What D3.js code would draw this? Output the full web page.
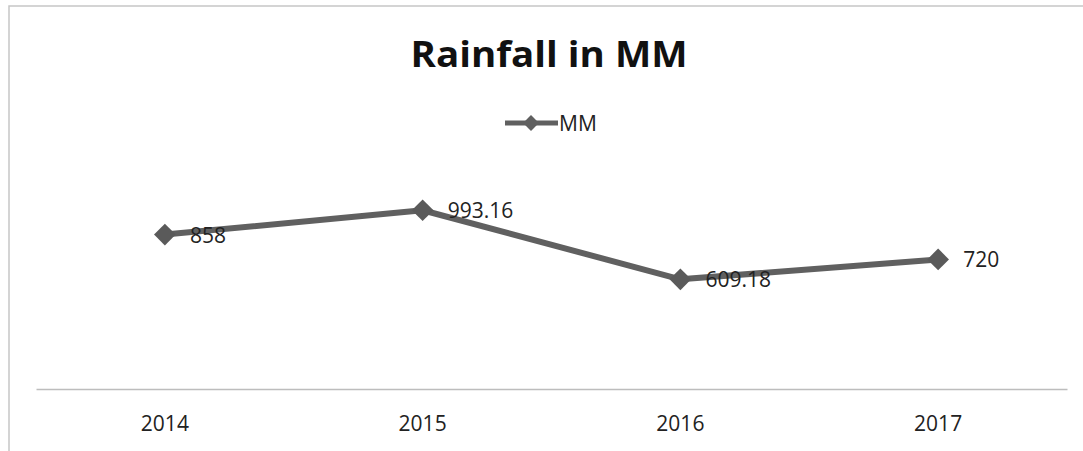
<!DOCTYPE html>
<html>
<head>
<meta charset="utf-8">
<script src="https://cdn.jsdelivr.net/npm/d3@7"></script>
<style>
  html, body { margin: 0; padding: 0; background: #fff; }
  svg { display: block; }
</style>
</head>
<body>
<svg id="chart" width="1083" height="451"></svg>
<script>
// Annual rainfall (mm)
const years = ["2014", "2015", "2016", "2017"];
const rainfall = [858, 993.16, 609.18, 720];
const labels = ["858", "993.16", "609.18", "720"];
const seriesName = "MM";
const title = "Rainfall in MM";

const W = 1083, H = 451;
const svg = d3.select("#chart");
const font = "'Open Sans', 'Liberation Sans', sans-serif";
const lineColor = "#606060";

// Chart frame
svg.append("rect")
  .attr("x", 9).attr("y", 6)
  .attr("width", 1200).attr("height", 600)
  .attr("fill", "#fff")
  .attr("stroke", "#c6c6c6")
  .attr("stroke-width", 1.5);

// Plot area
const plot = { left: 36, right: 1067, top: 173, bottom: 389 };

const x = d3.scaleBand()
  .domain(years)
  .range([plot.left, plot.right]);

const y = d3.scaleLinear()
  .domain([0, 1200])
  .range([plot.bottom, plot.top]);

// Category axis
const xAxis = svg.append("g")
  .attr("transform", `translate(0,${plot.bottom})`)
  .call(d3.axisBottom(x).tickSize(0).tickPadding(27));
xAxis.select(".domain")
  .attr("stroke", "#bdbdbd")
  .attr("stroke-width", 1.5);
xAxis.selectAll("text")
  .attr("font-family", font)
  .attr("font-size", 21)
  .attr("fill", "#222");

// Title
svg.append("text")
  .attr("x", 549).attr("y", 67)
  .attr("text-anchor", "middle")
  .attr("font-family", font)
  .attr("font-weight", "bold")
  .attr("font-size", 35)
  .attr("fill", "#111")
  .attr("textLength", 277)
  .attr("lengthAdjust", "spacingAndGlyphs")
  .text(title);

// Legend
const legend = svg.append("g").attr("transform", "translate(505,123)");
legend.append("line")
  .attr("x1", 0).attr("x2", 53)
  .attr("stroke", lineColor)
  .attr("stroke-width", 5);
legend.append("path")
  .attr("transform", "translate(26,0)")
  .attr("d", d3.symbol(d3.symbolDiamond2, 160)())
  .attr("fill", lineColor);
legend.append("text")
  .attr("x", 54).attr("y", 8)
  .attr("font-family", font)
  .attr("font-size", 21)
  .attr("fill", "#222")
  .text(seriesName);

// Series line
const cx = (d, i) => x(years[i]) + x.bandwidth() / 2;
const line = d3.line()
  .x(cx)
  .y(d => y(d));

svg.append("path")
  .datum(rainfall)
  .attr("d", line)
  .attr("fill", "none")
  .attr("stroke", lineColor)
  .attr("stroke-width", 6)
  .attr("stroke-linejoin", "round");

// Markers
svg.selectAll(".marker")
  .data(rainfall)
  .join("path")
  .attr("class", "marker")
  .attr("transform", (d, i) => `translate(${cx(d, i)},${y(d)})`)
  .attr("d", d3.symbol(d3.symbolDiamond2, 300)())
  .attr("fill", "#5a5a5a");

// Data labels
svg.selectAll(".value-label")
  .data(rainfall)
  .join("text")
  .attr("class", "value-label")
  .attr("x", (d, i) => cx(d, i) + 25)
  .attr("y", d => y(d) + 8)
  .attr("font-family", font)
  .attr("font-size", 21)
  .attr("fill", "#222")
  .text((d, i) => labels[i]);
</script>
</body>
</html>
